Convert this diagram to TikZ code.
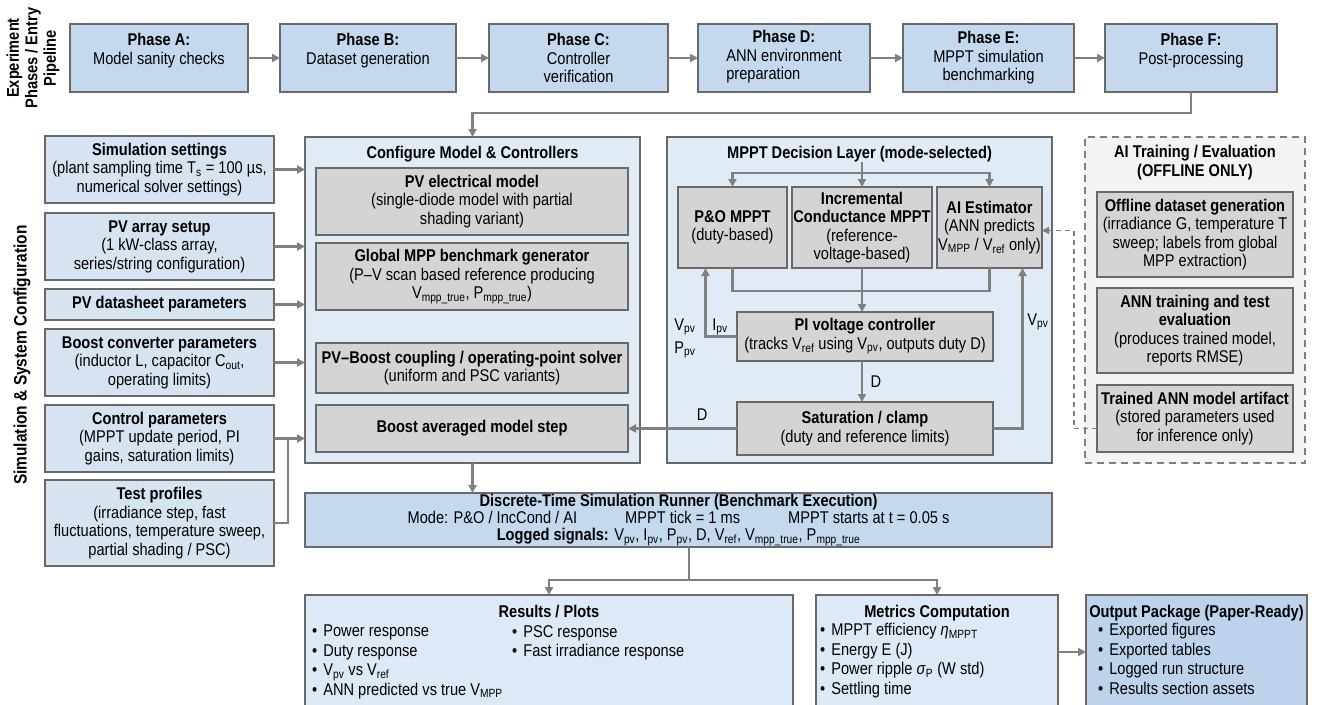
\documentclass[tikz,border=0pt]{standalone}
\usepackage{fontspec}
\setmainfont{Liberation Sans}[FakeStretch=0.86]
\usetikzlibrary{arrows.meta,positioning,calc}
\definecolor{phblue}{RGB}{196,217,238}
\definecolor{lblue}{RGB}{214,228,242}
\definecolor{grpblue}{RGB}{224,235,246}
\definecolor{resblue}{RGB}{220,233,246}
\definecolor{outblue}{RGB}{188,211,235}
\definecolor{boxgray}{RGB}{212,212,212}
\definecolor{offgray}{RGB}{243,243,243}
\definecolor{edgegray}{RGB}{105,105,105}
\definecolor{arrgray}{RGB}{128,128,128}
\newcommand{\sbs}[1]{\textsubscript{#1}}
\newcommand{\bul}{\textbullet\hspace{6pt}}

\begin{document}
\begin{tikzpicture}[x=1pt,y=-1pt,font=\fontsize{17}{18.5}\selectfont,
 box/.style={draw=edgegray,line width=1.3pt,inner sep=0pt,outer sep=0pt,align=center},
 phase/.style={box,fill=phblue,minimum height=68pt},
 cfgbox/.style={box,fill=lblue,minimum width=229pt},
 grp/.style={box,fill=grpblue,minimum height=326pt},
 gbox/.style={box,fill=boxgray},
 botbox/.style={box,fill=resblue,minimum height=114pt},
 arr/.style={-{Triangle[length=8pt,width=8pt]},line width=2.4pt,draw=arrgray},
 line/.style={line width=2.4pt,draw=arrgray},
 ttl/.style={font=\fontsize{17}{18.5}\selectfont\bfseries,align=center,inner sep=0pt},
 lst/.style={align=left,inner sep=0pt,anchor=north west,font=\fontsize{17}{19.5}\selectfont}]
\useasboundingbox (0,0) rectangle (1319,704);

\node[ttl,rotate=90] (lblexp) at (33,58) {Experiment\\Phases / Entry\\Pipeline};
\node[ttl,rotate=90,font=\fontsize{18}{20}\selectfont\bfseries] (lblsim) at (22,355) {Simulation \& System Configuration};

\node[phase,minimum width=178pt] (phA) at (159,58) {\textbf{Phase A:}\\Model sanity checks\\\mbox{}};
\node[phase,minimum width=176pt] (phB) at (368,58) {\textbf{Phase B:}\\Dataset generation\\\mbox{}};
\node[phase,minimum width=179pt] (phC) at (578.5,58) {\textbf{Phase C:}\\Controller\\verification};
\node[phase,minimum width=172pt] (phD) at (784,58) {\textbf{Phase D:}\\\begin{tabular}[t]{@{}l@{}}ANN environment\\preparation\end{tabular}};
\node[phase,minimum width=171pt] (phE) at (988.5,58) {\textbf{Phase E:}\\MPPT simulation\\benchmarking};
\node[phase,minimum width=172pt] (phF) at (1191,58) {\textbf{Phase F:}\\Post-processing\\\mbox{}};
\draw[arr] (phA)--(phB);\draw[arr] (phB)--(phC);\draw[arr] (phC)--(phD);\draw[arr] (phD)--(phE);\draw[arr] (phE)--(phF);

\node[cfgbox,minimum height=67pt] (simset) at (159.5,169.5) {\textbf{Simulation settings}\\(plant sampling time T\sbs{s} = 100 µs,\\numerical solver settings)};
\node[cfgbox,minimum height=67pt] (pvarr) at (159.5,246.5) {\textbf{PV array setup}\\(1 kW-class array,\\series/string configuration)};
\node[cfgbox,minimum height=31pt] (pvds) at (159.5,304.5) {\textbf{PV datasheet parameters}};
\node[cfgbox,minimum height=67pt] (boostp) at (159.5,362.5) {\textbf{Boost converter parameters}\\(inductor L, capacitor C\sbs{out},\\operating limits)};
\node[cfgbox,minimum height=67pt] (ctrlp) at (159.5,438.5) {\textbf{Control parameters}\\(MPPT update period, PI\\gains, saturation limits)};
\node[cfgbox,minimum height=86pt] (testp) at (159.5,523) {\textbf{Test profiles}\\(irradiance step, fast\\fluctuations, temperature sweep,\\partial shading / PSC)};

\node[grp,minimum width=335pt] (cfg) at (472.5,300) {};
\node[ttl,below=9pt of cfg.north] (cfgttl) {Configure Model \& Controllers};
\node[gbox,minimum width=312pt,minimum height=67pt] (pvm) at (472,201.5) {\textbf{PV electrical model}\\(single-diode model with partial\\shading variant)};
\node[gbox,minimum width=312pt,minimum height=67pt] (gmpp) at (472,276.5) {\textbf{Global MPP benchmark generator}\\(P–V scan based reference producing\\V\sbs{mpp\_true}, P\sbs{mpp\_true})};
\node[gbox,minimum width=312pt,minimum height=50pt] (coup) at (472,368) {\textbf{PV–Boost coupling / operating-point solver}\\(uniform and PSC variants)};
\node[gbox,minimum width=312pt,minimum height=47pt] (bavg) at (472,428.5) {\textbf{Boost averaged model step}};
\foreach \n in {simset,pvarr,pvds,boostp,ctrlp} \draw[arr] (\n.east)--(\n.east-|cfg.west);
\draw[line] (testp.east) -| ($(ctrlp.east)+(14,0)$);
\draw[arr] (phF.south) -- ++(0,21) -| (cfg.north);

\node[grp,minimum width=385pt] (mppt) at (859.5,300) {};
\node[ttl,below=9pt of mppt.north] (mpttl) {MPPT Decision Layer (mode-selected)};
\node[gbox,minimum width=109pt,minimum height=81pt] (po) at (732.5,227.5) {\textbf{P\&O MPPT}\\(duty-based)};
\node[gbox,minimum width=140pt,minimum height=81pt] (inc) at (862,227.5) {\textbf{Incremental}\\\textbf{Conductance MPPT}\\(reference-\\voltage-based)};
\node[gbox,minimum width=105pt,minimum height=81pt] (ai) at (989.5,227.5) {\textbf{AI Estimator}\\(ANN predicts\\V\sbs{MPP} / V\sbs{ref} only)};
\coordinate (fork) at (862,173);
\draw[line] (fork|-mpttl.south) -- (fork);
\draw[arr] (fork) -| (po.north);\draw[arr] (fork) -- (inc.north);\draw[arr] (fork) -| (ai.north);
\node[gbox,minimum width=256pt,minimum height=49pt] (pi) at (865,336.5) {\textbf{PI voltage controller}\\(tracks V\sbs{ref} using V\sbs{pv}, outputs duty D)};
\node[gbox,minimum width=256pt,minimum height=53pt] (sat) at (865,428.5) {\textbf{Saturation / clamp}\\(duty and reference limits)};
\coordinate (merge) at (862,291);
\draw[line] (po.south) |- (merge) -| (ai.south);
\draw[arr] (inc.south) -- (inc.south|-pi.north);
\draw[arr] (pi.west) -| ([xshift=-27pt]po.south);
\draw[arr] (pi.south-|inc.south) -- (sat.north-|inc.south) node[midway,right=4pt] (dlbl) {D};
\draw[arr] (sat.west) -- (bavg.east) node[pos=0.32,above=3pt] (dlbl2) {D};
\draw[arr] (sat.east) -| ([xshift=33pt]ai.south);
\node (lvpv) at (685,327) {V\sbs{pv}};
\node (lipv) at (720,327) {I\sbs{pv}};
\node (lppv) at (685,350) {P\sbs{pv}};
\node (lvpv2) at (1038,322) {V\sbs{pv}};

\node[box,dashed,dash pattern=on 7pt off 5pt,draw=arrgray,fill=offgray,minimum width=220pt,minimum height=326pt] (aitr) at (1195,300) {};
\node[ttl,below=8pt of aitr.north] (aittl) {AI Training / Evaluation\\(OFFLINE ONLY)};
\node[gbox,minimum width=196pt,minimum height=85pt] (offd) at (1195,234.5) {\textbf{Offline dataset generation}\\(irradiance G, temperature T\\sweep; labels from global\\MPP extraction)};
\node[gbox,minimum width=196pt,minimum height=85pt] (anntr) at (1195,330.5) {\textbf{ANN training and test}\\\textbf{evaluation}\\(produces trained model,\\reports RMSE)};
\node[gbox,minimum width=196pt,minimum height=67pt] (trained) at (1195,418.5) {\textbf{Trained ANN model artifact}\\(stored parameters used\\for inference only)};
\draw[arr,line width=1.4pt,dash pattern=on 5pt off 4pt,-{Triangle[length=7pt,width=7pt]}] ([yshift=-10pt]trained.west) -| ($(ai.east)+(32,3)$) -- ([yshift=-3pt]ai.east);

\node[box,fill=phblue,minimum width=747pt,minimum height=54pt,font=\fontsize{17}{17}\selectfont] (run) at (678.5,520) {\textbf{Discrete-Time Simulation Runner (Benchmark Execution)}\\Mode: P\&O / IncCond / AI\hspace{48pt}MPPT tick = 1 ms\hspace{48pt}MPPT starts at t = 0.05 s\\\textbf{Logged signals:} V\sbs{pv}, I\sbs{pv}, P\sbs{pv}, D, V\sbs{ref}, V\sbs{mpp\_true}, P\sbs{mpp\_true}};
\draw[arr] (cfg.south) -- (cfg.south|-run.north);

\node[botbox,minimum width=488pt] (res) at (549,652) {};
\node[botbox,minimum width=242pt] (met) at (937,652) {};
\node[botbox,fill=outblue,minimum width=221pt] (out) at (1196.5,652) {};
\coordinate (split) at (689,580);
\draw[line] ([xshift=10.5pt]run.south) -- (split);
\draw[arr] (split) -| (res.north);\draw[arr] (split) -| (met.north);
\draw[arr] (met) -- (out);
\node[ttl,below=10pt of res.north] (resttl) {Results / Plots};
\node[lst] (resl) at (312,625) {\bul Power response\\\bul Duty response\\\bul V\sbs{pv} vs V\sbs{ref}\\\bul ANN predicted vs true V\sbs{MPP}};
\node[lst] (resr) at (512,625) {\bul PSC response\\\bul Fast irradiance response};
\node[ttl,below=10pt of met.north] (metttl) {Metrics Computation};
\node[lst] (metl) at (820,623) {\bul MPPT efficiency \textit{η}\sbs{MPPT}\\\bul Energy E (J)\\\bul Power ripple \textit{σ}\sbs{P} (W std)\\\bul Settling time};
\node[ttl,below=10pt of out.north] (outttl) {Output Package (Paper-Ready)};
\node[lst] (outl) at (1098,623) {\bul Exported figures\\\bul Exported tables\\\bul Logged run structure\\\bul Results section assets};
\end{tikzpicture}
\end{document}
